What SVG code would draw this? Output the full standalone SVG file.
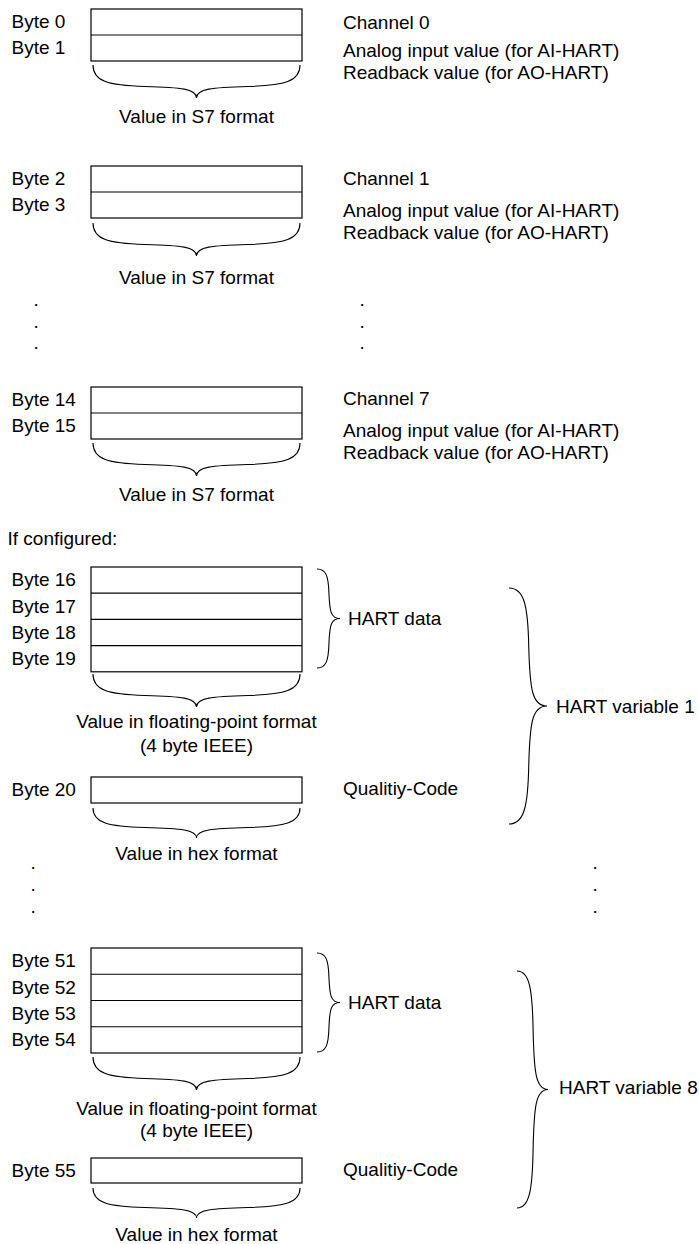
<svg xmlns="http://www.w3.org/2000/svg" width="699" height="1244" viewBox="0 0 699 1244">
<style>
text{font-family:"Liberation Sans",Arial,sans-serif;font-size:19px;fill:#000}
.c{text-anchor:middle}
.box{fill:#fff;stroke:#000;stroke-width:1.2}
.ln{stroke:#000;stroke-width:1.2;fill:none}
.br{fill:none;stroke:#000;stroke-width:1.1}
</style>
<rect width="699" height="1244" fill="#fff"/>

<g id="channel0">
<rect class="box" x="91" y="9" width="211" height="52"/>
<line class="ln" x1="91" y1="35" x2="302" y2="35"/>
<text x="11.5" y="28.3">Byte 0</text>
<text x="11.5" y="54.3">Byte 1</text>
<text x="343" y="28.8">Channel 0</text>
<text x="343" y="56.7">Analog input value (for AI-HART)</text>
<text x="343" y="79">Readback value (for AO-HART)</text>
<text class="c" x="196.5" y="122.5">Value in S7 format</text>
</g>

<g id="channel1">
<rect class="box" x="91" y="166" width="211" height="52"/>
<line class="ln" x1="91" y1="192" x2="302" y2="192"/>
<text x="11.5" y="185.3">Byte 2</text>
<text x="11.5" y="211.3">Byte 3</text>
<text x="343" y="185.3">Channel 1</text>
<text x="343" y="216.5">Analog input value (for AI-HART)</text>
<text x="343" y="239">Readback value (for AO-HART)</text>
<text class="c" x="196.5" y="284">Value in S7 format</text>
</g>

<g id="dots1">
<text x="33.4" y="306">.</text>
<text x="33.4" y="328">.</text>
<text x="33.4" y="349">.</text>
<text x="359.4" y="306">.</text>
<text x="359.4" y="328">.</text>
<text x="359.4" y="349">.</text>
</g>

<g id="channel7">
<rect class="box" x="91" y="387" width="211" height="52"/>
<line class="ln" x1="91" y1="413" x2="302" y2="413"/>
<text x="11.5" y="406.3">Byte 14</text>
<text x="11.5" y="432.3">Byte 15</text>
<text x="343" y="405">Channel 7</text>
<text x="343" y="436.5">Analog input value (for AI-HART)</text>
<text x="343" y="459">Readback value (for AO-HART)</text>
<text class="c" x="196.5" y="500.5">Value in S7 format</text>
</g>

<g id="ifconfigured">
<text x="7.5" y="545">If configured:</text>
</g>

<g id="hartvar1">
<rect class="box" x="91" y="567" width="211" height="104.8"/>
<line class="ln" x1="91" y1="593.2" x2="302" y2="593.2"/>
<line class="ln" x1="91" y1="619.4" x2="302" y2="619.4"/>
<line class="ln" x1="91" y1="645.6" x2="302" y2="645.6"/>
<text x="11.5" y="586.4">Byte 16</text>
<text x="11.5" y="612.6">Byte 17</text>
<text x="11.5" y="638.8">Byte 18</text>
<text x="11.5" y="665">Byte 19</text>
<text x="348" y="624.8">HART data</text>
<text class="c" x="196.5" y="728">Value in floating-point format</text>
<text class="c" x="196.5" y="751.5">(4 byte IEEE)</text>
<rect class="box" x="91" y="777" width="211" height="26"/>
<text x="11.5" y="796.3">Byte 20</text>
<text x="343" y="795">Qualitiy-Code</text>
<text class="c" x="196.5" y="859.5">Value in hex format</text>
<text x="556" y="712.5">HART variable 1</text>
</g>

<g id="dots2">
<text x="30.4" y="869">.</text>
<text x="30.4" y="891">.</text>
<text x="30.4" y="913">.</text>
<text x="592.4" y="869">.</text>
<text x="592.4" y="891">.</text>
<text x="592.4" y="913">.</text>
</g>

<g id="hartvar8">
<rect class="box" x="91" y="948" width="211" height="105"/>
<line class="ln" x1="91" y1="974.25" x2="302" y2="974.25"/>
<line class="ln" x1="91" y1="1000.5" x2="302" y2="1000.5"/>
<line class="ln" x1="91" y1="1026.75" x2="302" y2="1026.75"/>
<text x="11.5" y="967.4">Byte 51</text>
<text x="11.5" y="993.6">Byte 52</text>
<text x="11.5" y="1019.9">Byte 53</text>
<text x="11.5" y="1046.1">Byte 54</text>
<text x="348" y="1008.5">HART data</text>
<text class="c" x="196.5" y="1114.5">Value in floating-point format</text>
<text class="c" x="196.5" y="1137">(4 byte IEEE)</text>
<rect class="box" x="91" y="1158" width="211" height="25"/>
<text x="11.5" y="1176.8">Byte 55</text>
<text x="343" y="1175.8">Qualitiy-Code</text>
<text class="c" x="196.5" y="1241">Value in hex format</text>
<text x="559" y="1094">HART variable 8</text>
</g>

<g id="connectors">
<path class="br" d="M93,65 C93,81.5 108.5,85.5 144.75,86.5 C181,87.4 196.5,88.8 196.5,98 C196.5,88.8 212,87.4 248.25,86.5 C284.5,85.5 300,81.5 300,65"/>
<path class="br" d="M93,223 C93,239.5 108.5,243.5 144.75,244.5 C181,245.4 196.5,246.8 196.5,256 C196.5,246.8 212,245.4 248.25,244.5 C284.5,243.5 300,239.5 300,223"/>
<path class="br" d="M93,443 C93,459.5 108.5,463.5 144.75,464.5 C181,465.4 196.5,466.8 196.5,476 C196.5,466.8 212,465.4 248.25,464.5 C284.5,463.5 300,459.5 300,443"/>
<path class="br" d="M93,674 C93,690.5 108.5,694.5 144.75,695.5 C181,696.4 196.5,697.8 196.5,707 C196.5,697.8 212,696.4 248.25,695.5 C284.5,694.5 300,690.5 300,674"/>
<path class="br" d="M93,808 C93,823 108.5,826.6 144.75,827.5 C181,828.4 196.5,829.6 196.5,838 C196.5,829.6 212,828.4 248.25,827.5 C284.5,826.6 300,823 300,808"/>
<path class="br" d="M93,1057 C93,1073.5 108.5,1077.5 144.75,1078.5 C181,1079.4 196.5,1080.8 196.5,1090 C196.5,1080.8 212,1079.4 248.25,1078.5 C284.5,1077.5 300,1073.5 300,1057"/>
<path class="br" d="M93,1188 C93,1203 108.5,1206.6 144.75,1207.5 C181,1208.4 196.5,1209.6 196.5,1218 C196.5,1209.6 212,1208.4 248.25,1207.5 C284.5,1206.6 300,1203 300,1188"/>
<path class="br" d="M317,569 C326.2,569 328.5,576.4 328.96,593.75 C329.65,611.1 330.8,618.5 340,618.5 C330.8,618.5 329.65,625.9 328.96,643.25 C328.5,660.6 326.2,668 317,668"/>
<path class="br" d="M317,953 C326.2,953 328.5,960.4 328.96,977.75 C329.65,995.1 330.8,1002.5 340,1002.5 C330.8,1002.5 329.65,1009.9 328.96,1027.25 C328.5,1044.6 326.2,1052 317,1052"/>
<path class="br" d="M509,588 C524.2,588 528,605.7 528.76,647 C529.9,688.3 531.8,706 547,706 C531.8,706 529.9,723.7 528.76,765 C528,806.3 524.2,824 509,824"/>
<path class="br" d="M517,971 C529.4,971 532.5,988.8 533.1,1030.25 C534.05,1071.7 535.6,1089.5 548,1089.5 C535.6,1089.5 534.05,1107.3 533.1,1148.75 C532.5,1190.2 529.4,1208 517,1208"/>
</g>
</svg>
